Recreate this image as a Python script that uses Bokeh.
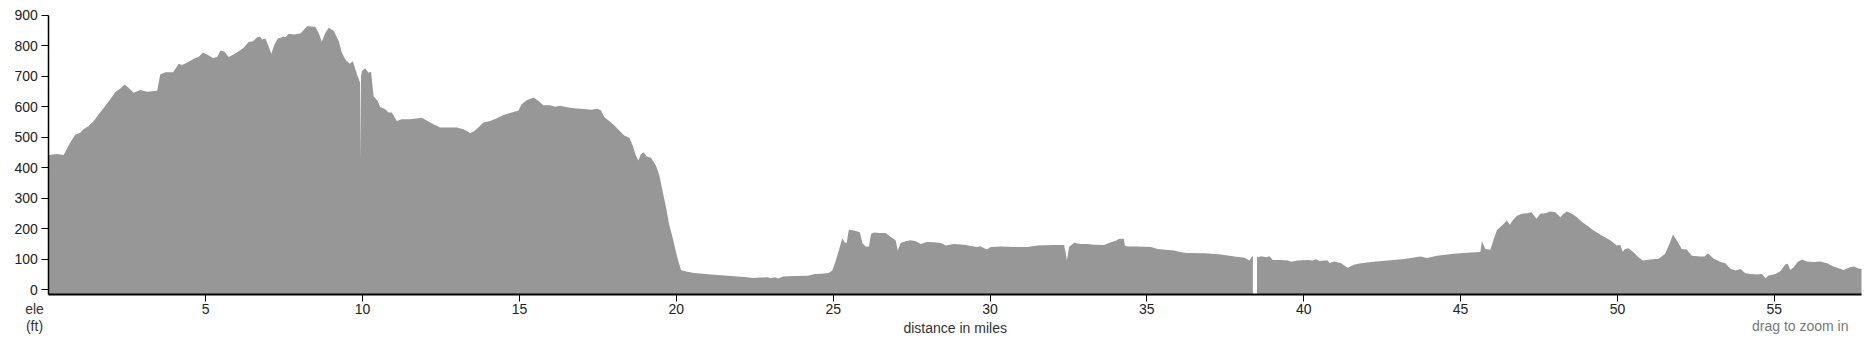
import math
from bokeh.plotting import figure
from bokeh.models import Range1d, FixedTicker, Label
from bokeh.embed import file_html
from bokeh.resources import INLINE

# ---- data (distance in miles, elevation in ft) ----
seg_a_miles = [0.00, 0.26, 0.47, 0.68, 0.84, 1.00, 1.10, 1.27, 1.43, 1.59, 1.74, 1.85, 1.98, 2.12, 2.28,
               2.41, 2.54, 2.70, 2.91, 3.13, 3.45, 3.55, 3.71, 3.96, 4.14, 4.24, 4.40, 4.62, 4.78, 4.91,
               5.04, 5.23, 5.36, 5.47, 5.60, 5.73, 5.89, 6.05, 6.21, 6.37, 6.51, 6.62, 6.72, 6.80, 6.90,
               6.98, 7.09, 7.19, 7.30, 7.40, 7.47, 7.54, 7.65, 7.81, 8.02]
seg_a_ele = [442, 445, 442, 483, 508, 515, 526, 537, 553, 575, 595, 610, 628, 648, 660,
             673, 662, 646, 655, 649, 652, 706, 713, 713, 741, 737, 744, 757, 764, 778,
             771, 760, 763, 784, 780, 763, 771, 782, 793, 812, 815, 826, 830, 820, 824,
             804, 774, 804, 824, 826, 830, 828, 839, 837, 840]

seg_b_miles = [8.23, 8.49, 8.60, 8.70, 8.81, 8.92, 9.08, 9.24, 9.34, 9.45, 9.59, 9.69, 9.82, 9.92, 9.93,
               9.95, 9.98, 10.08, 10.19, 10.27, 10.35, 10.48, 10.56, 10.72, 10.83, 10.93, 11.09, 11.25, 11.52, 11.89,
               12.15, 12.47, 12.69, 13.00, 13.22, 13.43, 13.54, 13.69, 13.85, 14.07, 14.28, 14.49, 14.76, 14.97, 15.07,
               15.23, 15.45, 15.61, 15.76, 15.98, 16.14, 16.30]
seg_b_ele = [864, 862, 842, 813, 842, 859, 848, 815, 777, 755, 741, 749, 706, 679, 425,
             700, 717, 726, 711, 715, 635, 619, 599, 592, 581, 581, 553, 559, 559, 564,
             548, 532, 532, 532, 526, 514, 519, 532, 548, 553, 562, 573, 581, 588, 608,
             621, 630, 619, 605, 605, 600, 603]

seg_c_miles = [16.64, 16.96, 17.28, 17.49, 17.60, 17.70, 17.86, 18.02, 18.18, 18.34, 18.50, 18.61, 18.71, 18.79, 18.87,
               18.96, 19.06, 19.19, 19.35, 19.46, 19.56, 19.67, 19.77, 19.88, 19.99, 20.06, 20.15, 20.31, 20.57, 21.11,
               21.64, 22.17, 22.44, 22.70, 22.91, 23.02, 23.13, 23.26, 23.40, 23.77, 24.20, 24.41, 24.62]
seg_c_ele = [596, 593, 590, 593, 588, 566, 553, 539, 522, 506, 498, 473, 440, 424, 444,
             451, 437, 433, 407, 375, 325, 271, 216, 172, 123, 96, 65, 60, 55, 50,
             46, 42, 39, 40, 41, 38, 41, 37, 44, 45, 46, 52, 53]

seg_d_miles = [24.86, 24.97, 25.07, 25.18, 25.29, 25.36, 25.43, 25.50, 25.66, 25.85, 25.93, 26.03, 26.14, 26.21, 26.30,
               26.46, 26.67, 26.88, 26.99, 27.06, 27.15, 27.31, 27.47, 27.63, 27.79, 27.98, 28.21, 28.43, 28.59, 28.85,
               29.17, 29.44, 29.60, 29.70, 29.81, 29.91, 30.02, 30.34, 30.77, 31.19, 31.51, 32.04, 32.36, 32.41, 32.45,
               32.52, 32.68, 32.89, 33.11, 33.32, 33.64, 33.85, 34.01, 34.12]
seg_d_ele = [55, 63, 91, 129, 169, 156, 153, 197, 194, 189, 153, 142, 142, 184, 188,
             186, 186, 170, 162, 129, 153, 159, 162, 159, 150, 157, 156, 153, 145, 150,
             148, 143, 140, 143, 136, 133, 140, 142, 140, 140, 145, 147, 147, 123, 96,
             140, 154, 150, 150, 148, 147, 156, 161, 167]

# the track has a gap (no data) between seg_e and seg_f
seg_e_miles = [34.26, 34.30, 34.38, 34.70, 35.13, 35.34, 35.87, 36.09, 36.30, 36.83, 37.36, 37.79, 38.11, 38.27, 38.33,
               38.38]
seg_e_ele = [167, 145, 142, 142, 140, 134, 129, 123, 121, 120, 116, 109, 105, 96, 107,
             111]

seg_f_miles = [38.51, 38.56, 38.64, 38.80, 38.91, 39.01, 39.28, 39.49, 39.60, 39.81, 40.13, 40.29, 40.39, 40.50,
               40.66, 40.77, 40.82, 40.98, 41.19, 41.40, 41.62, 41.83, 42.15, 42.68, 43.21,
               43.72, 43.93, 44.25, 44.78, 45.31, 45.63, 45.68, 45.79, 45.95, 46.06, 46.16, 46.32, 46.48, 46.57, 46.67,
               46.80, 46.96, 47.12, 47.26, 47.42, 47.54, 47.70, 47.86, 48.02, 48.18, 48.28, 48.39, 48.55, 48.71, 48.87,
               49.03, 49.24, 49.50, 49.77, 49.98, 50.09, 50.17, 50.24, 50.35, 50.51, 50.67, 50.81, 51.04, 51.31, 51.52,
               51.66, 51.77, 51.89, 52.05, 52.21, 52.37, 52.64]
seg_f_ele = [109, 107, 110, 107, 110, 98, 98, 96, 92, 96, 98, 96, 100, 94,
             96, 96, 88, 93, 87, 72, 83, 87, 91, 96, 101,
             109, 104, 112, 118, 122, 124, 159, 134, 131, 167, 196, 211, 227, 213, 229,
             243, 249, 251, 254, 233, 249, 251, 257, 254, 238, 249, 257, 249, 238, 222,
             211, 194, 178, 162, 145, 147, 125, 134, 136, 123, 107, 96, 99, 102, 118,
             151, 181, 162, 134, 132, 112, 109]

seg_g_miles = [52.78, 52.88, 53.07, 53.29, 53.44, 53.60, 53.76, 53.92, 54.08, 54.24, 54.45, 54.61, 54.72, 54.82, 55.04,
               55.19, 55.35, 55.43, 55.51, 55.62, 55.74, 55.88, 56.04, 56.25, 56.47, 56.68, 56.89, 57.10, 57.21, 57.37,
               57.53, 57.69, 57.78]
seg_g_ele = [109, 120, 102, 91, 87, 69, 63, 68, 54, 52, 50, 52, 38, 47, 52,
             61, 83, 85, 65, 74, 91, 99, 93, 91, 93, 87, 76, 69, 65, 72,
             76, 70, 68]

x_ticks = [5, 10, 15, 20, 25, 30, 35, 40, 45, 50, 55]
y_ticks = [0, 100, 200, 300, 400, 500, 600, 700, 800, 900]

x_title = "distance in miles"
y_title = "ele\n(ft)"
hint = "drag to zoom in"

# two continuous pieces of track, separated by the gap
piece1_miles = seg_a_miles + seg_b_miles + seg_c_miles + seg_d_miles + seg_e_miles
piece1_ele = seg_a_ele + seg_b_ele + seg_c_ele + seg_d_ele + seg_e_ele
piece2_miles = seg_f_miles + seg_g_miles
piece2_ele = seg_f_ele + seg_g_ele

# ---- geometry (pixels on the 1875x350 canvas) ----
W, H = 1875, 350
PX_LEFT, PX_RIGHT = 48.4, 1861.0      # x = 0 ... last mile
PX_TOP, PX_BOTTOM = 14.7, 294.0       # ele = Y_TOP ... Y_MIN
Y_TOP, Y_MIN = 900, -15.4
X_END = piece2_miles[-1]

sx = (PX_RIGHT - PX_LEFT) / X_END
sy = (PX_BOTTOM - PX_TOP) / (Y_TOP - Y_MIN)
x_range = Range1d(-PX_LEFT / sx, X_END + (W - PX_RIGHT) / sx)
y_range = Range1d(Y_MIN - (H - PX_BOTTOM) / sy, Y_TOP + PX_TOP / sy)

FONT = "Liberation Sans"
FILL = "#979797"

p = figure(width=W, height=H, output_backend="svg", toolbar_location=None,
           x_range=x_range, y_range=y_range,
           min_border=0, min_border_left=0, min_border_right=0, min_border_top=0, min_border_bottom=0,
           background_fill_color="white", border_fill_color="white")
p.title.visible = False
p.outline_line_color = None
p.grid.visible = False

p.varea(x=piece1_miles, y1=Y_MIN, y2=piece1_ele, fill_color=FILL, fill_alpha=1.0)
p.varea(x=piece2_miles, y1=Y_MIN, y2=piece2_ele, fill_color=FILL, fill_alpha=1.0)

for ax in (p.xaxis[0], p.yaxis[0]):
    ax.major_tick_in = 0
    ax.major_tick_out = 7
    ax.minor_tick_in = 0
    ax.minor_tick_out = 0
    ax.axis_line_color = "#000000"
    ax.major_tick_line_color = "#000000"
    ax.major_label_text_font = FONT
    ax.major_label_text_font_size = "14px"
    ax.major_label_text_color = "#222222"

p.xaxis.ticker = FixedTicker(ticks=x_ticks)
p.yaxis.ticker = FixedTicker(ticks=y_ticks)
p.xaxis.fixed_location = Y_MIN
p.yaxis.fixed_location = 0
p.xaxis.bounds = (0, X_END)
p.yaxis.bounds = (Y_MIN, Y_TOP)
p.xaxis.axis_line_width = 2
p.yaxis.axis_line_width = 1.5
p.xaxis.major_label_standoff = 2
p.yaxis.major_label_standoff = 4

# texts; screen units are canvas pixels measured from the bottom-left corner
p.add_layout(Label(x=34, y=H - 317, x_units="screen", y_units="screen", text=y_title,
                   text_align="center", text_baseline="alphabetic", text_line_height=1.05,
                   text_font=FONT, text_font_size="14px", text_color="#333333"))
p.add_layout(Label(x=X_END / 2, y=H - 327, x_units="data", y_units="screen", text=x_title,
                   text_align="center", text_baseline="alphabetic",
                   text_font=FONT, text_font_size="14px", text_color="#333333"))
p.add_layout(Label(x=1848, y=H - 325, x_units="screen", y_units="screen", text=hint,
                   text_align="right", text_baseline="alphabetic",
                   text_font=FONT, text_font_size="14px", text_color="#777777"))

open("out.html", "w").write(file_html(p, INLINE))
